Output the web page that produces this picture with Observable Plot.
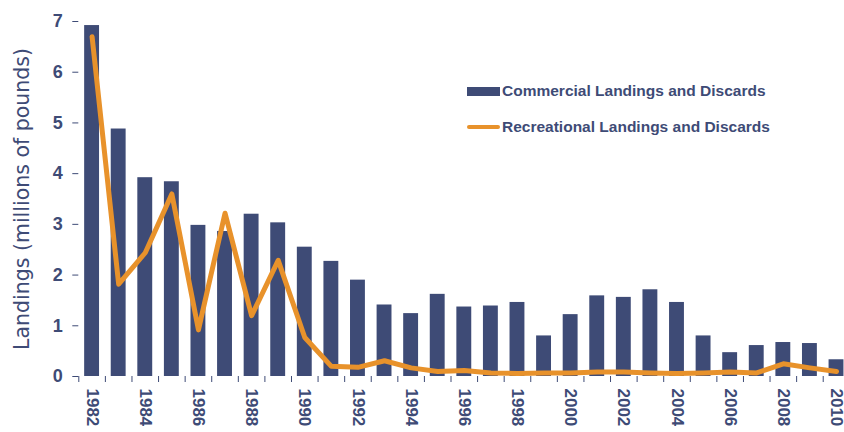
<!DOCTYPE html>
<html>
<head>
<meta charset="utf-8">
<script src="https://cdn.jsdelivr.net/npm/d3@7"></script>
<script src="https://cdn.jsdelivr.net/npm/@observablehq/plot@0.6"></script>
<style>
  html, body { margin: 0; padding: 0; background: #fff; }
  #wrap { position: relative; width: 844px; height: 432px; overflow: hidden; font-family: "Liberation Sans", Arial, sans-serif; }
  .legend { position: absolute; left: 467px; color: #3E4B76; font-weight: bold; font-size: 15.5px; display: flex; align-items: center; white-space: nowrap; }
  .sw-bar { width: 33px; height: 9px; background: #3E4B76; margin-right: 2px; }
  .sw-line { width: 33px; height: 4px; border-radius: 2px; background: #E8922B; margin-right: 2px; }
</style>
</head>
<body>
<div id="wrap"></div>
<script>
const years = d3.range(1982, 2011);
const commercial = [6.92, 4.88, 3.92, 3.84, 2.98, 2.86, 3.20, 3.03, 2.55, 2.27,
                    1.90, 1.41, 1.24, 1.62, 1.37, 1.39, 1.46, 0.80, 1.22, 1.59,
                    1.56, 1.71, 1.46, 0.80, 0.47, 0.61, 0.67, 0.65, 0.33];
const recreational = [6.70, 1.82, 2.44, 3.60, 0.92, 3.22, 1.20, 2.29, 0.77, 0.20,
                      0.18, 0.31, 0.17, 0.10, 0.12, 0.07, 0.06, 0.07, 0.07, 0.09,
                      0.09, 0.07, 0.06, 0.07, 0.09, 0.07, 0.25, 0.17, 0.10];
const yTicks = [0, 1, 2, 3, 4, 5, 6, 7];
const xLabelYears = years.filter(y => y % 2 === 0);
const seriesNames = ["Commercial Landings and Discards", "Recreational Landings and Discards"];
const yTitle = "Landings (millions of pounds)";

const data = years.map((year, i) => ({year, com: commercial[i], rec: recreational[i]}));
const ink = "#3E4B76";
const orange = "#E8922B";
const left = 78.3, right = 849.3;
const step = (right - left) / years.length;

const chart = Plot.plot({
  width: 844,
  height: 432,
  marginLeft: left,
  marginTop: 21,
  marginBottom: 56,
  marginRight: 0,
  style: {fontFamily: "'Liberation Sans', Arial, sans-serif", color: ink, background: "transparent", overflow: "visible"},
  x: {type: "band", domain: years, range: [left, right], paddingInner: 0.44, paddingOuter: 0.22, round: false},
  y: {domain: [0, 7]},
  marks: [
    Plot.barY(data, {x: "year", y: "com", fill: ink}),
    Plot.line(data, {x: "year", y: "rec", stroke: orange, strokeWidth: 5, strokeLinecap: "round", strokeLinejoin: "round"}),
    Plot.axisY({ticks: yTicks, tickFormat: d => String(d), tickSize: 6, tickPadding: 10, fontSize: 18, fontWeight: "bold", label: null, stroke: ink, fill: ink, line: true}),
    Plot.axisX({ticks: years, tickSize: 6, tickFormat: () => "", dx: -step / 2, label: null, stroke: ink, line: true}),
    Plot.axisX({ticks: xLabelYears, tickFormat: d => String(d), tickSize: 0, tickPadding: 12, tickRotate: 90, fontSize: 17, fontWeight: "bold", label: null, fill: ink}),
    Plot.text([yTitle], {frameAnchor: "left", textAnchor: "middle", rotate: -90, dx: -56, fontSize: 20.5, fontFamily: "'DejaVu Sans', sans-serif", fill: ink})
  ]
});
const wrap = document.getElementById("wrap");
wrap.appendChild(chart);

const l1 = document.createElement("div");
l1.className = "legend"; l1.style.top = "82px";
l1.innerHTML = `<span class="sw-bar"></span><span>${seriesNames[0]}</span>`;
const l2 = document.createElement("div");
l2.className = "legend"; l2.style.top = "118px";
l2.innerHTML = `<span class="sw-line"></span><span>${seriesNames[1]}</span>`;
wrap.appendChild(l1); wrap.appendChild(l2);
</script>
</body>
</html>
